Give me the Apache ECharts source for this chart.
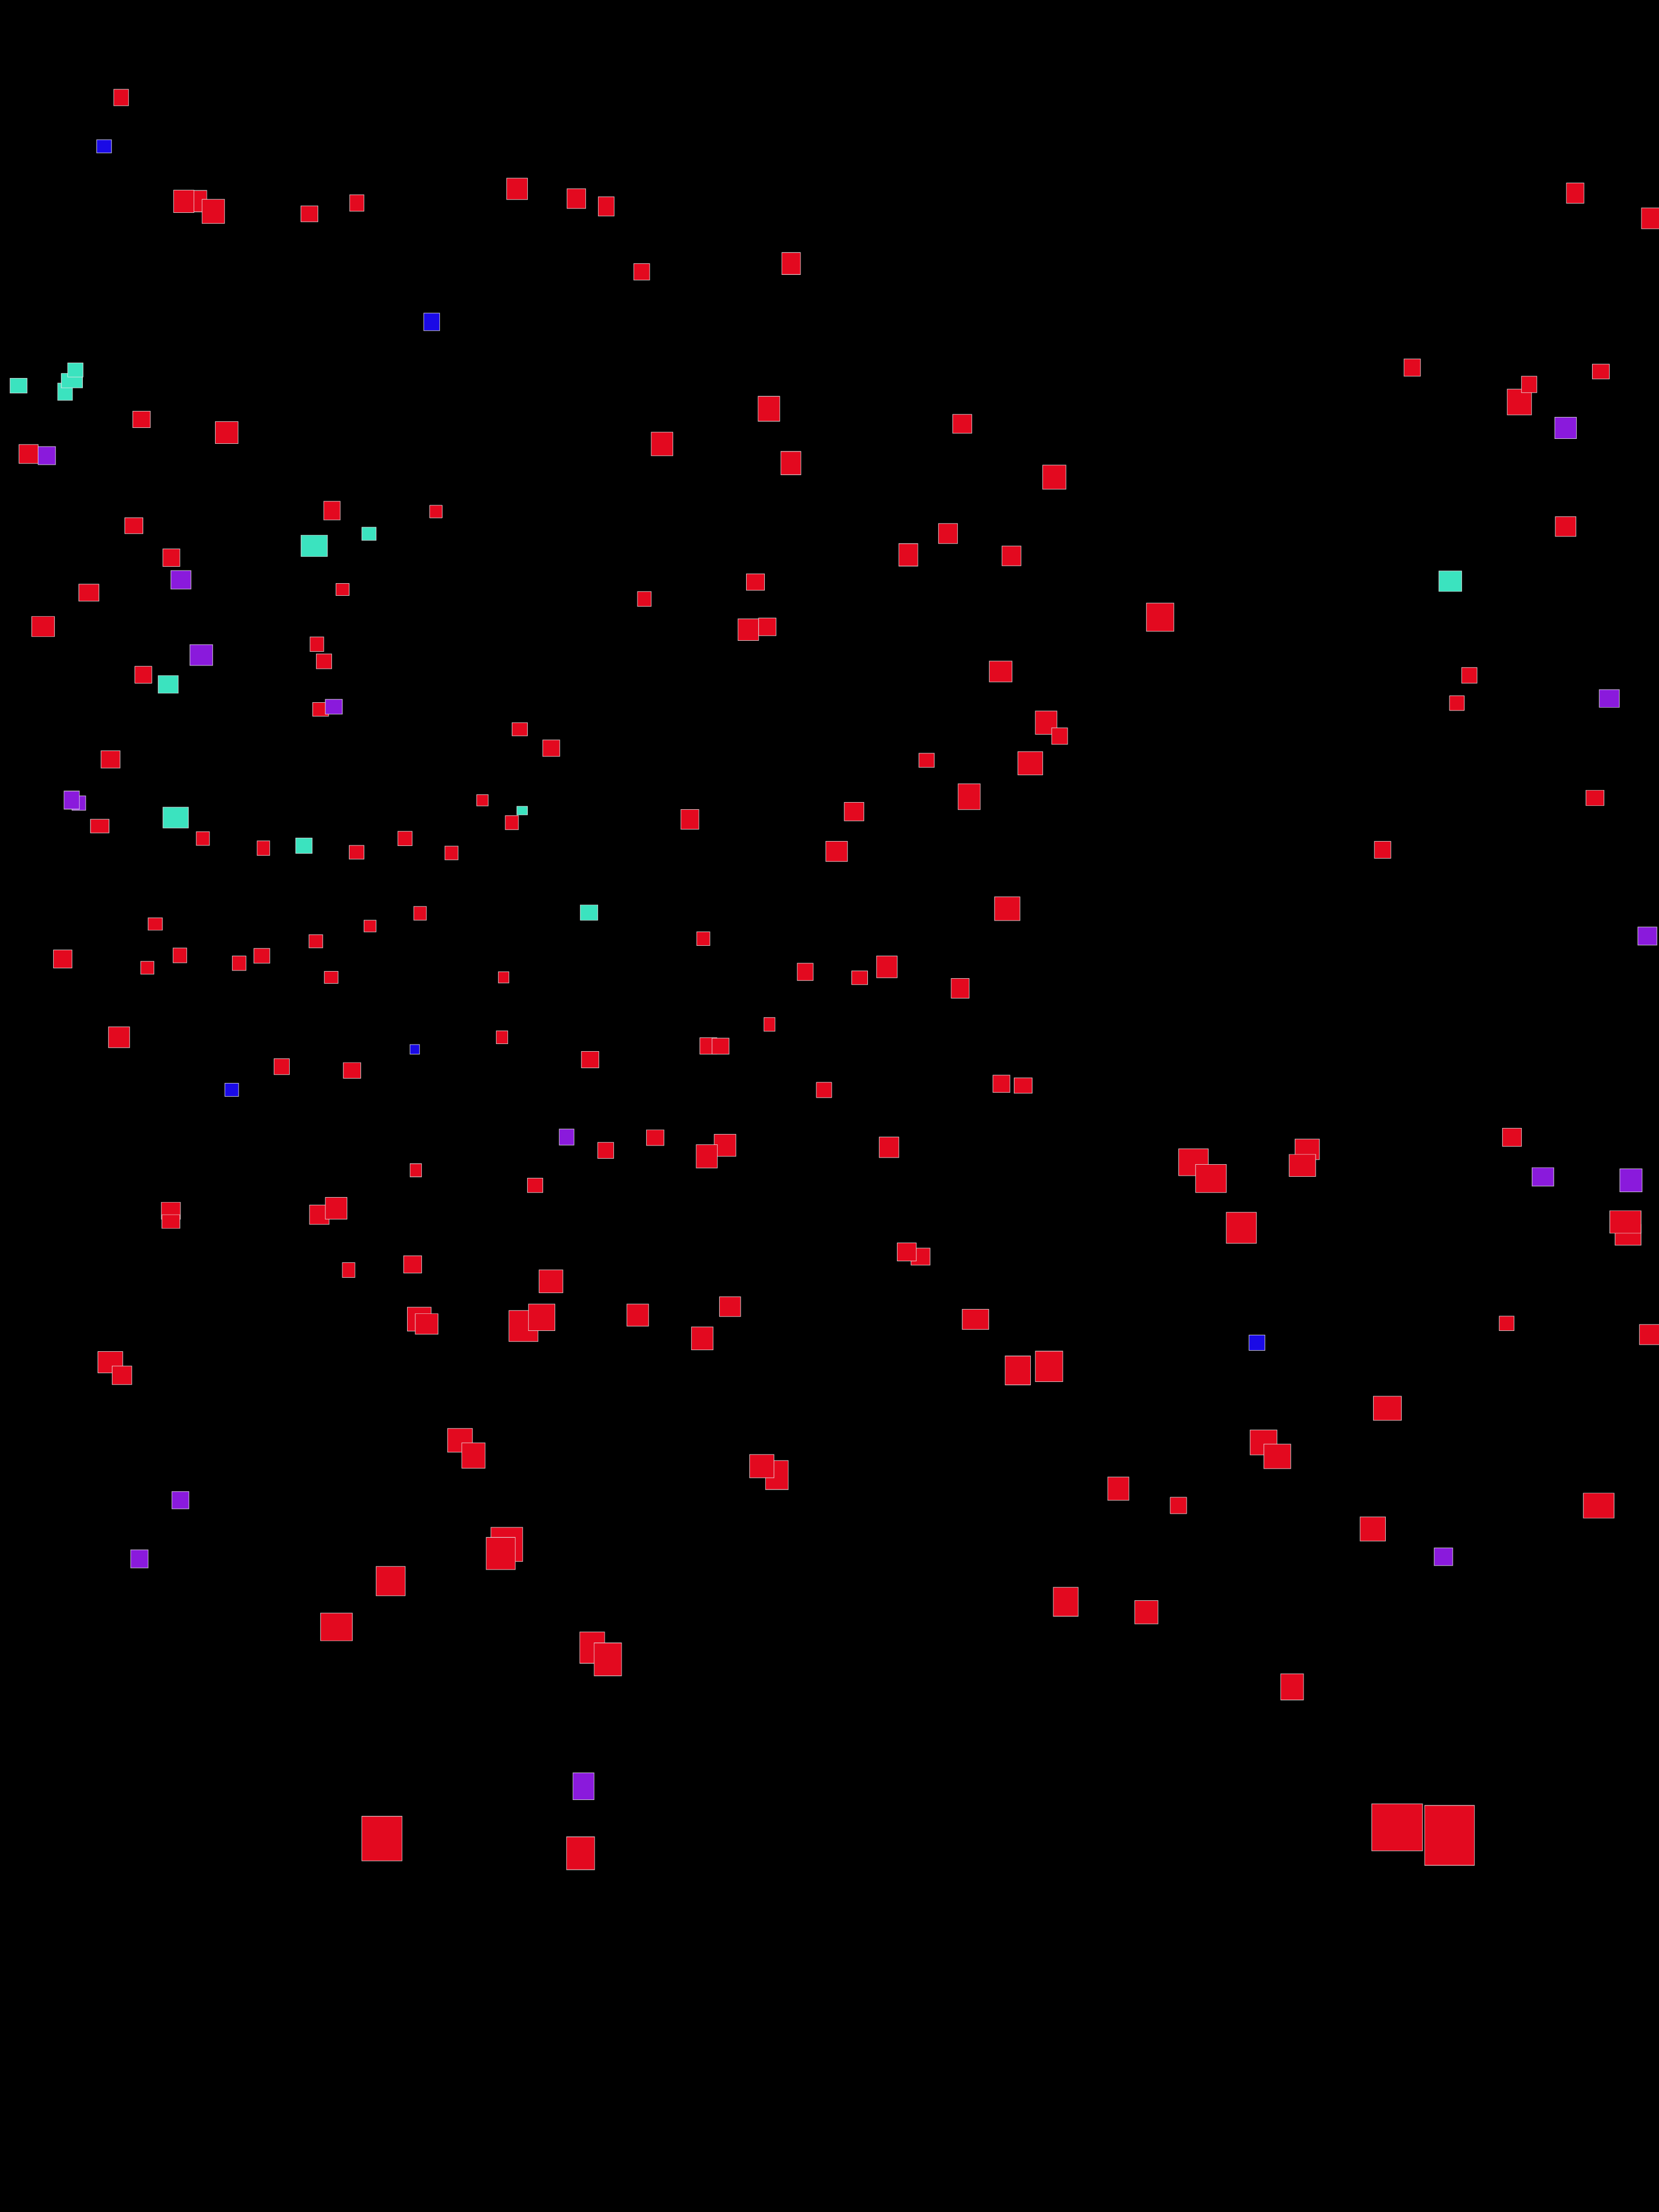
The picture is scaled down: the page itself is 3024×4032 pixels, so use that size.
<!DOCTYPE html>
<html>
<head>
<meta charset="utf-8">
<script src="https://cdn.jsdelivr.net/npm/echarts@6/dist/echarts.min.js"></script>
<style>
  html, body { margin: 0; padding: 0; background: #000; }
  #chart { width: 3024px; height: 4032px; }
</style>
</head>
<body>
<div id="chart"></div>
<script>
// Each record: [x, y, widthValue, heightValue]
const seriesNames = ['A', 'B', 'C', 'D'];

const redData = [
  [220.8,177.8,27,30],[363,366.7,28,39],[335,367,37,41],[388.8,385.3,41,44],
  [564,389.8,31,29],[650.4,370,26,30],[942.6,344.3,38,39],[1050.6,361.9,34,36],
  [1105,376.2,29,35],[1169.7,495.4,29,30],[1442.1,480.4,34,40],[258,764.6,32,30],
  [413.2,788.4,41.5,40],[52.1,827.6,35,34.5],[1401.6,745.1,39.5,45.5],[1206.8,809.3,39.5,43],
  [1441.6,844.1,36.6,42.5],[605.1,930.7,30,34],[794.6,932.5,23,23],[244,958.2,33,29],
  [312.4,1016.5,31,32],[162,1080.3,36.6,31],[624.4,1074.4,24,22],[1377,1060.9,33,30],
  [1174.5,1091.7,25,27],[78.6,1142,41.5,36.7],[1364,1147.8,37.6,39.6],[1398.7,1142.7,31.8,32.3],
  [2871.2,352,32,37],[3008.5,398,33,38],[2574.2,670,30,31.5],[2918,677.3,31,27],
  [2769.5,732.7,44.4,47],[2787.3,700.8,28,30],[1754,772.6,34.7,34.5],[1921.8,869.8,42.4,44],
  [1728,972.5,34.7,36.7],[1655.7,1011.4,34.7,41],[1843.7,1013.2,34.7,36],[2853.8,959.7,37.6,36],
  [2114.7,1125,50,51.3],
  [577.6,1174.2,25,26.4],[590.6,1205.4,28,27],[261.3,1229.9,31,31],[584.4,1293,29,25],
  [947.4,1329.3,28,24],[1004.8,1363.8,31,30],[201.5,1384.3,34.7,31.5],[181.8,1505.7,33.8,25],
  [369.8,1528.4,24,25],[480.2,1546,23,26.4],[650,1553.4,27,25],[738.2,1528.4,26,26.4],
  [823,1554.8,24,25],[879.4,1458.8,21,20.5],[933,1499.5,24,25.7],[1257.5,1493.6,32.8,36],
  [1525,1551.9,39.5,36.7],[283,1684.3,26,22.7],[674.5,1688,22,21.3],[765.7,1664.8,23,25],
  [575.7,1715.8,25,24],[1282,1711,24,25],[114.3,1748.1,33.8,33],[327.9,1741.5,25,27],
  [268.6,1763.9,24,23.5],[435.9,1755.8,25,26.4],[477.3,1742.2,29,27],[603.7,1781.5,25,22],
  [918,1781.5,19.3,20.5],[1467.7,1771.6,29,31.5],[1402.6,1867.3,20.3,25],[217,1890.7,38.6,38],
  [915.1,1890.7,21,23.5],[513.5,1944.3,28,29],[641.7,1951.2,31.8,28.6],[1075.7,1931.4,31.8,30],
  [1291.2,1906.5,31,30],[1313.4,1906.9,31,29.3],[1502,1986.8,28,28],[1104.1,2096.8,29,29.3],
  [1194.3,2073.7,31.8,28.6],[1321.6,2087.6,39.5,40.3],[1288.3,2107.8,38.6,42.5],[757.9,2133.1,21,24],
  [975.4,2160.6,28,26.4],[311.5,2206.8,34.7,30.8],[311.5,2226.6,32.8,25],[582,2214.2,35.7,35.2],
  [612.8,2202.4,39.5,39.6],[752.2,2304.8,32.8,31.5],[635.5,2315,23,27],
  [1824,1224.1,41.5,38],[2678.3,1231,28,28.6],[2655.6,1281.6,27,27],[1906.9,1317.2,39.5,42.5],
  [1931.5,1341.8,29,30],[1689,1385.8,28,25.7],[1878,1391.3,45.3,42.5],[1766.6,1452.2,40.5,47],
  [1556.8,1479.3,35.7,33.7],[2907.3,1454.4,32.8,28],[2520.2,1549,30,30.8],[1836,1656.4,46.3,43.3],
  [1616.6,1762.4,37.6,39.6],[1567,1782.2,29,25],[1750.2,1801.6,32.8,36],[1825.4,1975.4,31,31.5],
  [1865,1978.7,32.8,28],[1620.5,2091.3,35.7,37.4],[2382.8,2095,44.4,37.4],[2374,2124.3,48.2,40.3],
  [2175.4,2118.5,54,49],[2207.3,2148.2,56,51.3],[2756,2073,34.7,33],[2262.7,2238,55,56.5],
  [2967.6,2250.8,47.3,38],[2962.8,2227.4,57,41],[1677.9,2290.5,34.7,31],[1652.8,2282,34.7,33],
  [1004.3,2335.6,43.4,41.8],[764.2,2404.5,43.4,43.3],[777.7,2413.3,41.5,37.4],[954.2,2417,53,56.5],
  [987.4,2401.2,48.2,48.4],[1162.5,2397.2,39.5,40.3],[1330.7,2381.8,38.6,36],[1280.1,2439.7,39.5,41.8],
  [201.1,2483,45.3,39],[222.3,2506.8,35.7,33.7],[838.5,2625.3,45.3,43.3],[863,2653.1,42.4,46.2],
  [1416.1,2688.7,41.5,52.8],[1388.6,2672.6,44.4,42.5],[923.8,2815.2,57.9,62.3],[912.7,2831.7,53,58.7],
  [712.1,2882,53,53.5],[613.3,2965.6,57.9,50.6],[1079.5,3003.3,45.3,57.2],[1108,3024.6,50,60],
  [696.2,3351.3,73.3,81.4],[1058.3,3378.1,51.1,60],
  [1778.1,2404.9,48.2,36.7],[2746.3,2412.2,27,26.4],[3006.8,2432.7,37,36.7],[1855.3,2498,46.3,52.8],
  [1912.2,2490.7,50,55.7],[2528.9,2567,51,44],[2303.2,2629.3,49,45.5],[2328.3,2654.6,49,44.7],
  [2038.5,2713.6,38.6,42.5],[2148,2744.1,30,30],[2502.3,2787,46.3,44],[2914.1,2744.4,56,45.5],
  [1942.6,2919.7,45.3,52.8],[2089.6,2938.8,42.4,42.5],[2355.3,3074.8,41.5,47.7],
  [2546.7,3330.8,92.6,85.8],[2642.2,3345.5,90.6,109.3]
];

const blueData = [
  [189.7,266.8,27,24],[786.9,586.7,29,32],[756,1912.7,17.4,17.6],[422.4,1986.4,25,24],
  [2291.2,2447.4,29,28]
];

const purpleData = [
  [85.3,830.6,31.8,33],[329.8,1056.8,36.6,33.7],[2853.8,780,39.5,39],[366.9,1194,41.5,38],
  [608.5,1288.2,31,27],[143.7,1463.9,25,26.4],[130.7,1458.4,28,33],[2933.4,1273.2,36.6,32.3],
  [3002.8,1706.3,34.7,33],[1032.8,2072.6,27,29.3],[2812.4,2145.2,39.5,33.7],[2972.9,2151.5,40.5,41.8],
  [328.8,2734.5,31,31.5],[254.1,2841.6,31.8,33],[2631.1,2837.6,33.8,32.3],[1063.6,3256,38.6,49]
];

const tealData = [
  [33.8,703,31,27],[118.6,714,27,31.5],[131.1,693.8,38.6,26.4],[137.4,674.4,28,25.7],
  [672.6,972.9,26,24],[572.8,994.9,48,39],[2643.6,1059.4,41.5,37.4],[306.6,1247.5,36.6,32.3],
  [320.2,1490.3,46.3,38],[554,1541.6,30,28],[951.8,1477.5,19.3,15.4],[1073.7,1663.4,31.8,28]
];

const colors = ['#e3091f', '#1a0ae6', '#8a1adc', '#3be3bf'];
const allData = [redData, blueData, purpleData, tealData];

const chart = echarts.init(document.getElementById('chart'), null, { renderer: 'canvas' });
chart.setOption({
  backgroundColor: '#000000',
  animation: false,
  grid: { left: 0, right: 0, top: 0, bottom: 0, containLabel: false },
  xAxis: { type: 'value', min: 0, max: 3024, show: false, splitLine: { show: false } },
  yAxis: { type: 'value', min: 0, max: 4032, inverse: true, show: false, splitLine: { show: false } },
  series: allData.map((d, i) => ({
    name: seriesNames[i],
    type: 'scatter',
    symbol: 'rect',
    symbolSize: (val) => [val[2], val[3]],
    data: d,
    itemStyle: {
      color: colors[i],
      opacity: 1,
      borderColor: 'rgba(235,235,235,0.85)',
      borderWidth: 1
    },
    emphasis: { disabled: true }
  }))
});
</script>
</body>
</html>
